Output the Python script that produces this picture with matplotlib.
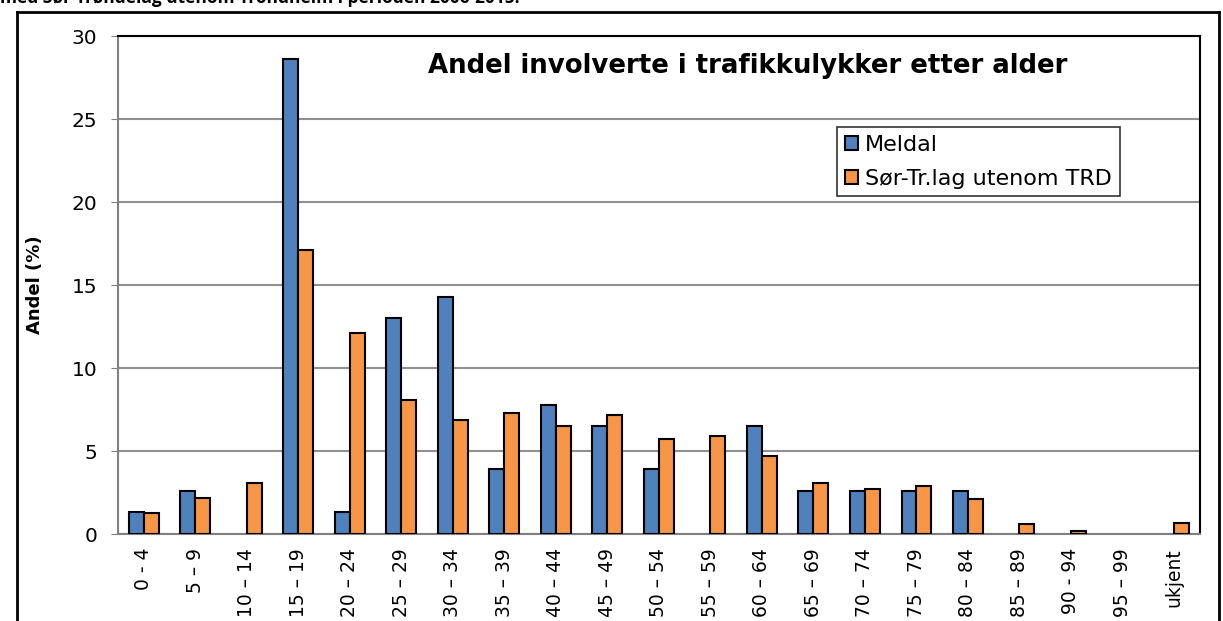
import matplotlib.pyplot as plt
import numpy as np
from matplotlib.lines import Line2D

plt.rcParams['font.family'] = ['DejaVu Sans']

age_groups = ['0 - 4', '5 – 9', '10 – 14', '15 – 19', '20 – 24', '25 – 29', '30 – 34',
              '35 – 39', '40 – 44', '45 – 49', '50 – 54', '55 – 59', '60 – 64', '65 – 69',
              '70 – 74', '75 – 79', '80 – 84', '85 – 89', '90 - 94', '95 – 99', 'ukjent']
meldal = [1.3, 2.6, 0, 28.6, 1.3, 13.0, 14.3, 3.9, 7.8, 6.5, 3.9, 0, 6.5, 2.6,
          2.6, 2.6, 2.6, 0, 0, 0, 0]
sor_trlag = [1.25, 2.2, 3.1, 17.1, 12.1, 8.1, 6.9, 7.3, 6.5, 7.2, 5.7, 5.9, 4.7, 3.1,
             2.7, 2.9, 2.1, 0.6, 0.2, 0.0, 0.65]

blue = '#4F81BD'
orange = '#F79646'

fig = plt.figure(figsize=(12.23, 6.21), dpi=100)
ax = fig.add_axes([0.0965, 0.140, 0.8845, 0.802])

x = np.arange(len(age_groups))
w = 0.29
b1 = ax.bar(x - w / 2, meldal, w, color=blue, edgecolor='black', linewidth=1.5,
            label='Meldal', zorder=3)
b2 = ax.bar(x + w / 2, sor_trlag, w, color=orange, edgecolor='black', linewidth=1.5,
            label='Sør-Tr.lag utenom TRD', zorder=3)
# empty categories show no bar at all
for bars, vals in ((b1, meldal), (b2, sor_trlag)):
    for rect, v in zip(bars, vals):
        if v == 0:
            rect.set_visible(False)

ax.set_xlim(-0.5, len(age_groups) - 0.5)
ax.set_ylim(0, 30)
ax.set_yticks(range(0, 31, 5))
ax.tick_params(axis='y', labelsize=14.5, length=5, color='#808080', pad=10)
ax.set_xticks(x)
ax.set_xticklabels(age_groups, rotation=90, fontsize=13.5)
ax.tick_params(axis='x', length=0, pad=10)
ax.yaxis.grid(True, color='#909090', linewidth=1.5, zorder=0)

for s in ('left', 'bottom'):
    ax.spines[s].set_color('#808080')
for s in ax.spines.values():
    s.set_linewidth(1.5)

ax.set_ylabel('Andel (%)', fontsize=13, fontweight='bold', family='Liberation Sans Narrow')
ax.yaxis.set_label_coords(-0.068, 0.5)

ax.text(0.582, 0.94, 'Andel involverte i trafikkulykker etter alder', transform=ax.transAxes,
        ha='center', va='center', fontsize=18.7, fontweight='bold')

leg = ax.legend(loc='upper left', bbox_to_anchor=(0.665, 0.817), fontsize=16, frameon=True,
                fancybox=False, edgecolor='black', handlelength=0.6, handleheight=0.6,
                handletextpad=0.3, borderpad=0.35, labelspacing=0.62, borderaxespad=0)
leg.get_frame().set_linewidth(1.2)

# page frame and cut-off caption from the document
fig.add_artist(Line2D([0.014, 0.014], [0, 0.981], color='black', linewidth=2, transform=fig.transFigure))
fig.add_artist(Line2D([0.014, 0.997], [0.981, 0.981], color='black', linewidth=2, transform=fig.transFigure))
fig.add_artist(Line2D([0.997, 0.997], [0, 0.981], color='black', linewidth=2, transform=fig.transFigure))
fig.text(0.0, 1.003, 'med Sør-Trøndelag utenom Trondheim i perioden 2006-2015.', ha='left', va='center',
         fontsize=12.5, fontweight='bold', family='Open Sans')

fig.savefig('out.png', dpi=100)
